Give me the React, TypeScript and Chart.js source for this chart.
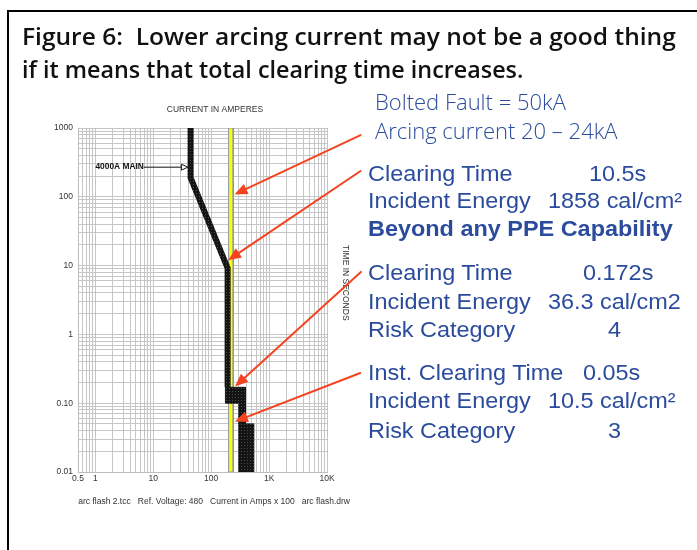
import React, { useEffect, useRef } from "react";
import { Chart, registerables } from "chart.js";

Chart.register(...registerables);

// ---------------- data ----------------
// axes (current in amps x 100, time in seconds)
const xTickValues = [0.5, 1, 10, 100, 1000, 10000];
const xTickLabels = ["0.5", "1", "10", "100", "1K", "10K"];
const yTickValues = [0.01, 0.1, 1, 10, 100, 1000];
const yTickLabels = ["0.01", "0.10", "1", "10", "100", "1000"];
const gridMantissas = [1, 2, 3, 4, 5, 6, 7, 8, 9];
const xDecades = [0.1, 1, 10, 100, 1000, 10000];
const yDecades = [0.01, 0.1, 1, 10, 100, 1000];

// 4000A main breaker long-time / short-time line
const mainCurrent = [44, 44, 192, 192];
const mainTime = [1000, 190, 9.2, 0.17];
// instantaneous band outline
const instCurrent = [176, 389, 389, 540, 540, 300, 300, 176];
const instTime = [0.17, 0.17, 0.05, 0.05, 0.01, 0.01, 0.1, 0.1];
// arcing current band 20 - 24 kA
const arcingCurrent = [200, 240];
const arcingTime = [0.01, 1000];

// red call-out arrows (tip / tail in current, time)
const arrowTipCurrent = [252, 196, 258, 256];
const arrowTipTime = [108, 12, 0.175, 0.054];
const arrowTailCurrent = [38000, 38000, 38500, 37500];
const arrowTailTime = [790, 237, 8.1, 0.275];

// "4000A MAIN" label
const mainLabelText = "4000A MAIN";
const mainLabelCurrent = 1.0;
const mainLabelTime = 274;
const mainArrowTipCurrent = 39.5;

// texts
const titleLines = [
  "Figure 6:  Lower arcing current may not be a good thing",
  "if it means that total clearing time increases.",
];
const faultLines = ["Bolted Fault = 50kA", "Arcing current 20 \u2013 24kA"];
const infoLabels = [
  "Clearing Time",
  "Incident Energy",
  "Beyond any PPE Capability",
  "Clearing Time",
  "Incident Energy",
  "Risk Category",
  "Inst. Clearing Time",
  "Incident Energy",
  "Risk Category",
];
const infoValues = [
  "10.5s",
  "1858 cal/cm\u00b2",
  "",
  "0.172s",
  "36.3 cal/cm2",
  "4",
  "0.05s",
  "10.5 cal/cm\u00b2",
  "3",
];
const infoBold = [false, false, true, false, false, false, false, false, false];

// layout-only constants
const infoValueX = [589, 548, 0, 583, 547.5, 608, 583, 547.5, 608];
const infoBaseline = [181.7, 208.5, 236.7, 281, 309.3, 337.3, 381, 409, 438.3];
const faultBaseline = [109.3, 138.3];
const titleBaseline = [45, 78];
const titleScaleX = [1.022, 0.972];

const ARIAL = "Arial, 'Liberation Sans', sans-serif";
const OPEN = "'Open Sans', 'Noto Sans', sans-serif";
const BLUE = "#2b4b9d";
const RED = "#f4431e";

function buildGrid(decades: number[], min: number, max: number) {
  const out: number[] = [];
  decades.forEach((d) =>
    gridMantissas.forEach((m) => {
      const v = parseFloat((m * d).toPrecision(6));
      if (v >= min - 1e-9 && v <= max + 1e-9) out.push(v);
    })
  );
  return out;
}

function labelFor(values: number[], labels: string[], v: number) {
  const i = values.findIndex((t) => Math.abs(t - v) / t < 1e-6);
  return i >= 0 ? labels[i] : "";
}

function makePattern(ctx: CanvasRenderingContext2D) {
  const c = document.createElement("canvas");
  c.width = 3;
  c.height = 3;
  const g = c.getContext("2d")!;
  g.fillStyle = "#141414";
  g.fillRect(0, 0, 3, 3);
  g.fillStyle = "#4a4a4a";
  g.fillRect(1, 1, 1, 1);
  return ctx.createPattern(c, "repeat")!;
}

function drawArrow(
  ctx: CanvasRenderingContext2D,
  x1: number,
  y1: number,
  x2: number,
  y2: number,
  headLen: number,
  headHalf: number
) {
  const a = Math.atan2(y2 - y1, x2 - x1);
  const bx = x2 - headLen * Math.cos(a);
  const by = y2 - headLen * Math.sin(a);
  ctx.beginPath();
  ctx.moveTo(x1, y1);
  ctx.lineTo(bx, by);
  ctx.stroke();
  ctx.beginPath();
  ctx.moveTo(x2, y2);
  ctx.lineTo(bx + headHalf * Math.sin(a), by - headHalf * Math.cos(a));
  ctx.lineTo(bx - headHalf * Math.sin(a), by + headHalf * Math.cos(a));
  ctx.closePath();
  ctx.fill();
}

const overlayPlugin = {
  id: "tccOverlay",
  afterDatasetsDraw(chart: any) {
    const ctx: CanvasRenderingContext2D = chart.ctx;
    const xs = chart.scales.x;
    const ys = chart.scales.y;
    ctx.save();
    // axis captions
    ctx.fillStyle = "#333";
    ctx.font = `8.5px ${ARIAL}`;
    ctx.textAlign = "center";
    ctx.textBaseline = "alphabetic";
    ctx.fillText("CURRENT IN AMPERES", 215, 111.5);
    ctx.textAlign = "left";
    ctx.fillText(
      "arc flash 2.tcc   Ref. Voltage: 480   Current in Amps x 100   arc flash.drw",
      78.3,
      503.8
    );
    ctx.save();
    ctx.translate(345.5, 245);
    ctx.rotate(Math.PI / 2);
    ctx.textBaseline = "middle";
    ctx.fillText("TIME IN SECONDS", 0, 0);
    ctx.restore();

    // 4000A MAIN label + hollow arrow
    const lx = xs.getPixelForValue(mainLabelCurrent);
    const ly = ys.getPixelForValue(mainLabelTime);
    ctx.font = `bold 8.4px ${ARIAL}`;
    ctx.fillStyle = "#111";
    ctx.textBaseline = "middle";
    ctx.textAlign = "left";
    ctx.fillText(mainLabelText, lx, ly);
    const tw = ctx.measureText(mainLabelText).width;
    const tipX = xs.getPixelForValue(mainArrowTipCurrent);
    ctx.strokeStyle = "#111";
    ctx.lineWidth = 1;
    ctx.beginPath();
    ctx.moveTo(lx + tw, ly + 0.5);
    ctx.lineTo(tipX - 6, ly + 0.5);
    ctx.stroke();
    ctx.fillStyle = "#fff";
    ctx.beginPath();
    ctx.moveTo(tipX, ly + 0.5);
    ctx.lineTo(tipX - 6.5, ly - 2.5);
    ctx.lineTo(tipX - 6.5, ly + 3.5);
    ctx.closePath();
    ctx.fill();
    ctx.stroke();

    // red call-out arrows
    ctx.strokeStyle = RED;
    ctx.fillStyle = RED;
    ctx.lineWidth = 2;
    ctx.lineCap = "round";
    for (let i = 0; i < arrowTipCurrent.length; i++) {
      drawArrow(
        ctx,
        xs.getPixelForValue(arrowTailCurrent[i]),
        ys.getPixelForValue(arrowTailTime[i]),
        xs.getPixelForValue(arrowTipCurrent[i]),
        ys.getPixelForValue(arrowTipTime[i]),
        13,
        5.5
      );
    }
    ctx.restore();
  },
};

function TextLine(props: {
  x: number;
  base: number;
  size: number;
  family: string;
  weight?: number;
  color: string;
  sx?: number;
  asc: number;
  text: string;
}) {
  const { x, base, size, family, weight, color, sx, asc, text } = props;
  return (
    <div
      style={{
        position: "absolute",
        left: x,
        top: base - size * asc,
        fontSize: size,
        lineHeight: `${size}px`,
        fontFamily: family,
        fontWeight: weight ?? 400,
        color,
        whiteSpace: "pre",
        transform: `scaleX(${sx ?? 1})`,
        transformOrigin: "left top",
      }}
    >
      {text}
    </div>
  );
}

export default function App() {
  const ref = useRef<HTMLCanvasElement>(null);

  useEffect(() => {
    const canvas = ref.current!;
    const ctx = canvas.getContext("2d")!;
    const pattern = makePattern(ctx);
    const xGrid = buildGrid(xDecades, 0.5, 10000);
    const yGrid = buildGrid(yDecades, 0.01, 1000);

    const bandData = [
      { x: arcingCurrent[0], y: arcingTime[0] },
      { x: arcingCurrent[0], y: arcingTime[1] },
      { x: arcingCurrent[1], y: arcingTime[1] },
      { x: arcingCurrent[1], y: arcingTime[0] },
      { x: arcingCurrent[0], y: arcingTime[0] },
    ];
    const mainData = mainCurrent.map((c, i) => ({ x: c, y: mainTime[i] }));
    const instData = instCurrent.map((c, i) => ({ x: c, y: instTime[i] }));
    instData.push({ ...instData[0] });

    const chart = new Chart(canvas, {
      type: "line",
      data: {
        datasets: [
          {
            label: "4000A MAIN",
            data: mainData,
            borderColor: pattern as any,
            borderWidth: 6,
            borderJoinStyle: "miter",
            fill: false,
            pointRadius: 0,
            tension: 0,
            order: 0,
          },
          {
            label: "4000A MAIN inst",
            data: instData,
            borderColor: pattern as any,
            backgroundColor: pattern as any,
            borderWidth: 1,
            fill: "shape",
            pointRadius: 0,
            tension: 0,
            order: 1,
          },
          {
            label: "Arcing current",
            data: bandData,
            borderColor: "#8796ad",
            backgroundColor: "#ffff00",
            borderWidth: 1,
            fill: "shape",
            pointRadius: 0,
            tension: 0,
            order: 2,
          },
        ],
      },
      options: {
        responsive: false,
        animation: false,
        events: [],
        layout: { padding: { left: 38, top: 128, right: 370, bottom: 58 } },
        plugins: {
          legend: { display: false },
          tooltip: { enabled: false },
          title: { display: false },
        },
        scales: {
          x: {
            type: "logarithmic",
            position: "bottom",
            min: 0.5,
            max: 10000,
            afterBuildTicks: (s: any) => {
              s.ticks = xGrid.map((v) => ({ value: v }));
            },
            afterFit: (s: any) => {
              s.height = 20;
            },
            grid: { color: "#c6c6c6", lineWidth: 1, drawTicks: false },
            border: { display: true, color: "#bdbdbd" },
            ticks: {
              autoSkip: false,
              maxRotation: 0,
              padding: 2,
              color: "#333",
              font: { family: ARIAL, size: 8.5 },
              callback: (v: any) => labelFor(xTickValues, xTickLabels, Number(v)),
            },
          },
          y: {
            type: "logarithmic",
            position: "left",
            min: 0.01,
            max: 1000,
            afterBuildTicks: (s: any) => {
              s.ticks = yGrid.map((v) => ({ value: v }));
            },
            afterFit: (s: any) => {
              s.width = 40;
            },
            grid: { color: "#c6c6c6", lineWidth: 1, drawTicks: false },
            border: { display: true, color: "#bdbdbd" },
            ticks: {
              autoSkip: false,
              padding: 5,
              color: "#333",
              font: { family: ARIAL, size: 8.5 },
              callback: (v: any) => labelFor(yTickValues, yTickLabels, Number(v)),
            },
          },
        },
      } as any,
      plugins: [overlayPlugin],
    });
    return () => chart.destroy();
  }, []);

  return (
    <div
      style={{
        position: "absolute",
        left: 0,
        top: 0,
        width: 697,
        height: 550,
        background: "#fff",
        overflow: "hidden",
      }}
    >
      <canvas
        ref={ref}
        width={697}
        height={550}
        style={{ position: "absolute", left: 0, top: 0, width: 697, height: 550 }}
      />
      <div
        style={{
          position: "absolute",
          left: 7,
          top: 10,
          width: 700,
          height: 560,
          borderLeft: "2px solid #000",
          borderTop: "2px solid #000",
        }}
      />
      {titleLines.map((t, i) => (
        <TextLine
          key={"t" + i}
          x={22}
          base={titleBaseline[i]}
          size={24}
          family={OPEN}
          weight={600}
          color="#111"
          sx={titleScaleX[i]}
          asc={0.888}
          text={t}
        />
      ))}
      {faultLines.map((t, i) => (
        <TextLine
          key={"f" + i}
          x={375}
          base={faultBaseline[i]}
          size={22}
          family={OPEN}
          weight={300}
          color={BLUE}
          asc={0.888}
          text={t}
        />
      ))}
      {infoLabels.map((t, i) => (
        <TextLine
          key={"l" + i}
          x={368.3}
          base={infoBaseline[i]}
          size={22}
          family={ARIAL}
          weight={infoBold[i] ? 700 : 400}
          color={BLUE}
          sx={1.065}
          asc={0.8465}
          text={t}
        />
      ))}
      {infoValues.map((t, i) =>
        t ? (
          <TextLine
            key={"v" + i}
            x={infoValueX[i]}
            base={infoBaseline[i]}
            size={22}
            family={ARIAL}
            color={BLUE}
            sx={1.065}
            asc={0.8465}
            text={t}
          />
        ) : null
      )}
    </div>
  );
}
